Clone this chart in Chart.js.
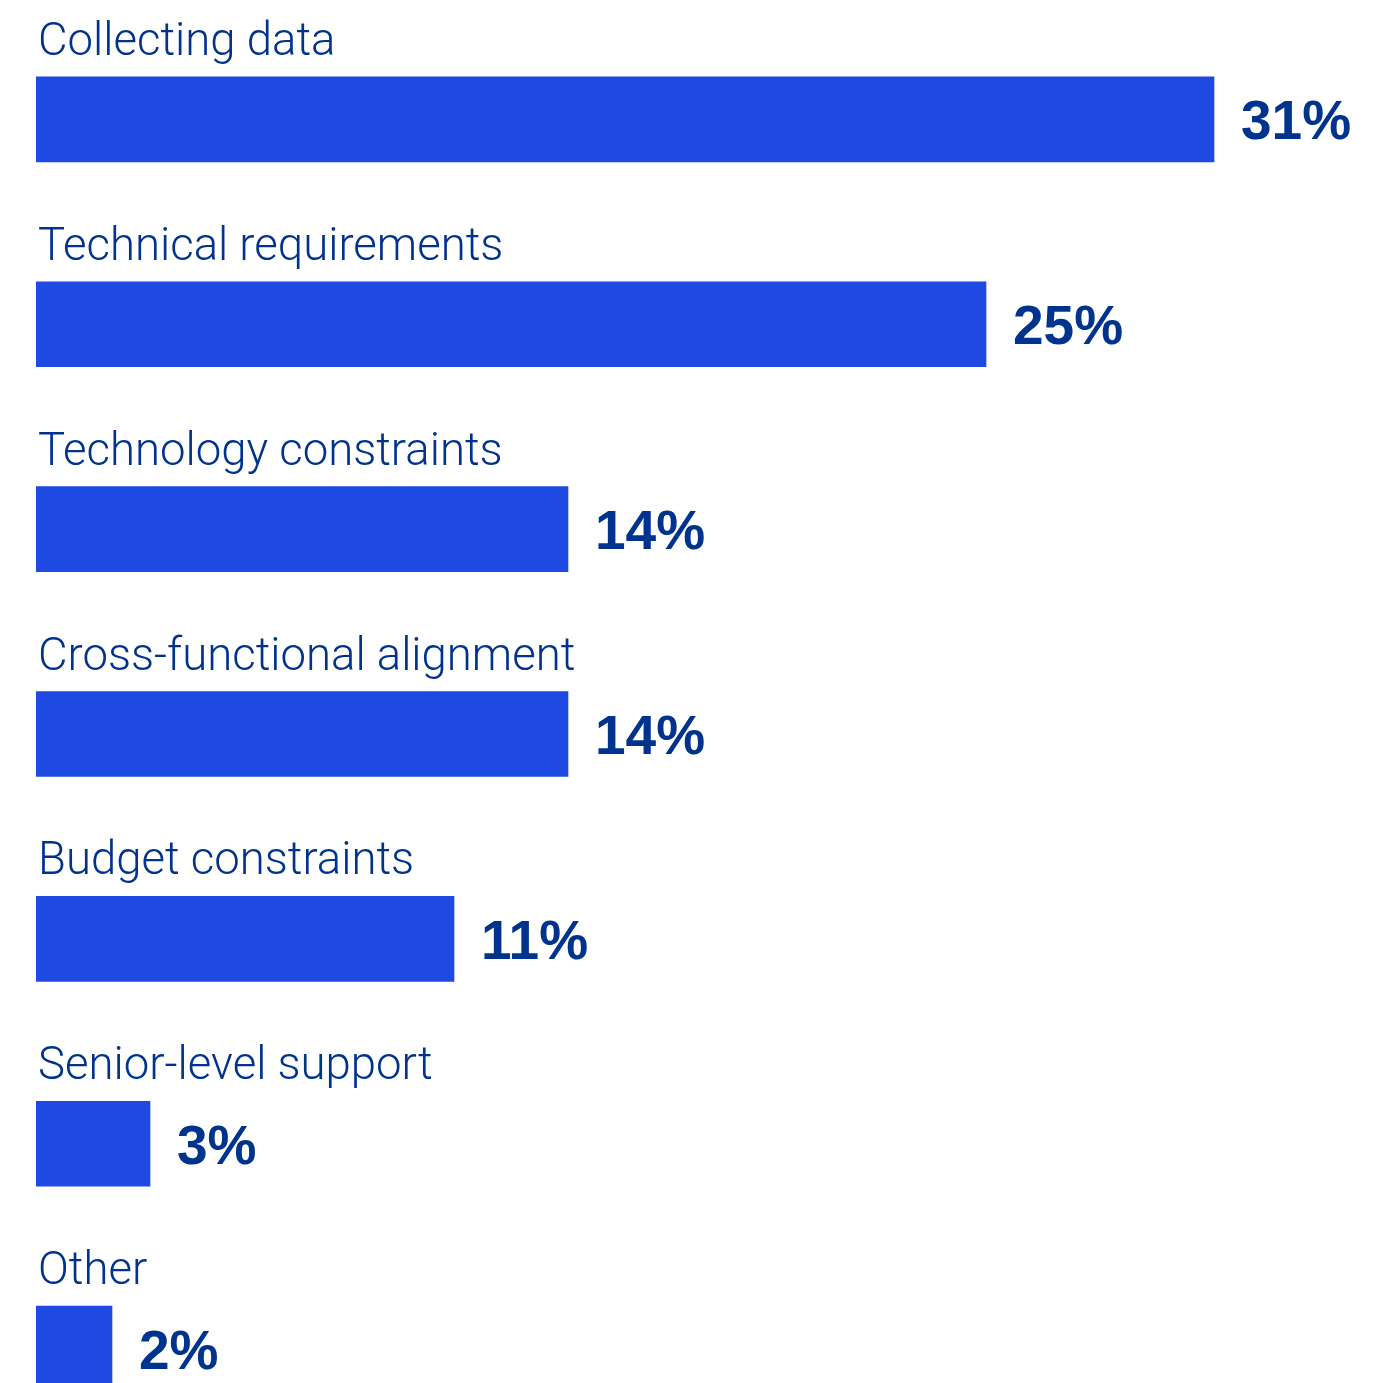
<!DOCTYPE html>
<html>
<head>
<meta charset="utf-8">
<title>Challenges</title>
<script src="https://cdn.jsdelivr.net/npm/chart.js@4.4.1/dist/chart.umd.min.js"></script>
<style>
  html, body { margin: 0; padding: 0; background: #fff; overflow: hidden; }
  #wrap { position: relative; width: 1385px; height: 1451px; }
</style>
</head>
<body>
<div id="wrap"><canvas id="challengeChart"></canvas></div>
<script>
// KPMG-style palette
const COLOR_BAR = "#1e49e2";
const COLOR_TEXT = "#00338d";

const categories = [
  "Collecting data",
  "Technical requirements",
  "Technology constraints",
  "Cross-functional alignment",
  "Budget constraints",
  "Senior-level support",
  "Other",
];
const shares = [31, 25, 14, 14, 11, 3, 2];

// Category name above each bar, bold percentage to its right
const barLabels = {
  id: "barLabels",
  afterDatasetsDraw(chart) {
    const ctx = chart.ctx;
    const meta = chart.getDatasetMeta(0);
    ctx.save();
    meta.data.forEach((bar, i) => {
      const top = bar.y - bar.height / 2;

      ctx.fillStyle = COLOR_TEXT;
      ctx.textAlign = "left";
      ctx.textBaseline = "alphabetic";
      ctx.font = "300 45.5px Roboto";
      ctx.fillText(categories[i], chart.chartArea.left + 2, top - 22);

      ctx.font = "bold 55px 'Liberation Sans'";
      ctx.fillText(`${shares[i]}%`, bar.x + 27, bar.y + 20);
    });
    ctx.restore();
  },
};

new Chart(document.getElementById("challengeChart"), {
  type: "bar",
  data: {
    labels: categories,
    datasets: [
      {
        data: shares,
        backgroundColor: COLOR_BAR,
        borderWidth: 0,
        barThickness: 85,
      },
    ],
  },
  options: {
    indexAxis: "y",
    responsive: true,
    maintainAspectRatio: false,
    animation: false,
    layout: {
      padding: { top: 17, left: 36, right: 19, bottom: 0 },
    },
    scales: {
      x: { display: false, min: 0, max: 35 },
      y: { display: false },
    },
    plugins: {
      legend: { display: false },
      tooltip: { enabled: false },
    },
  },
  plugins: [barLabels],
});
</script>
</body>
</html>
